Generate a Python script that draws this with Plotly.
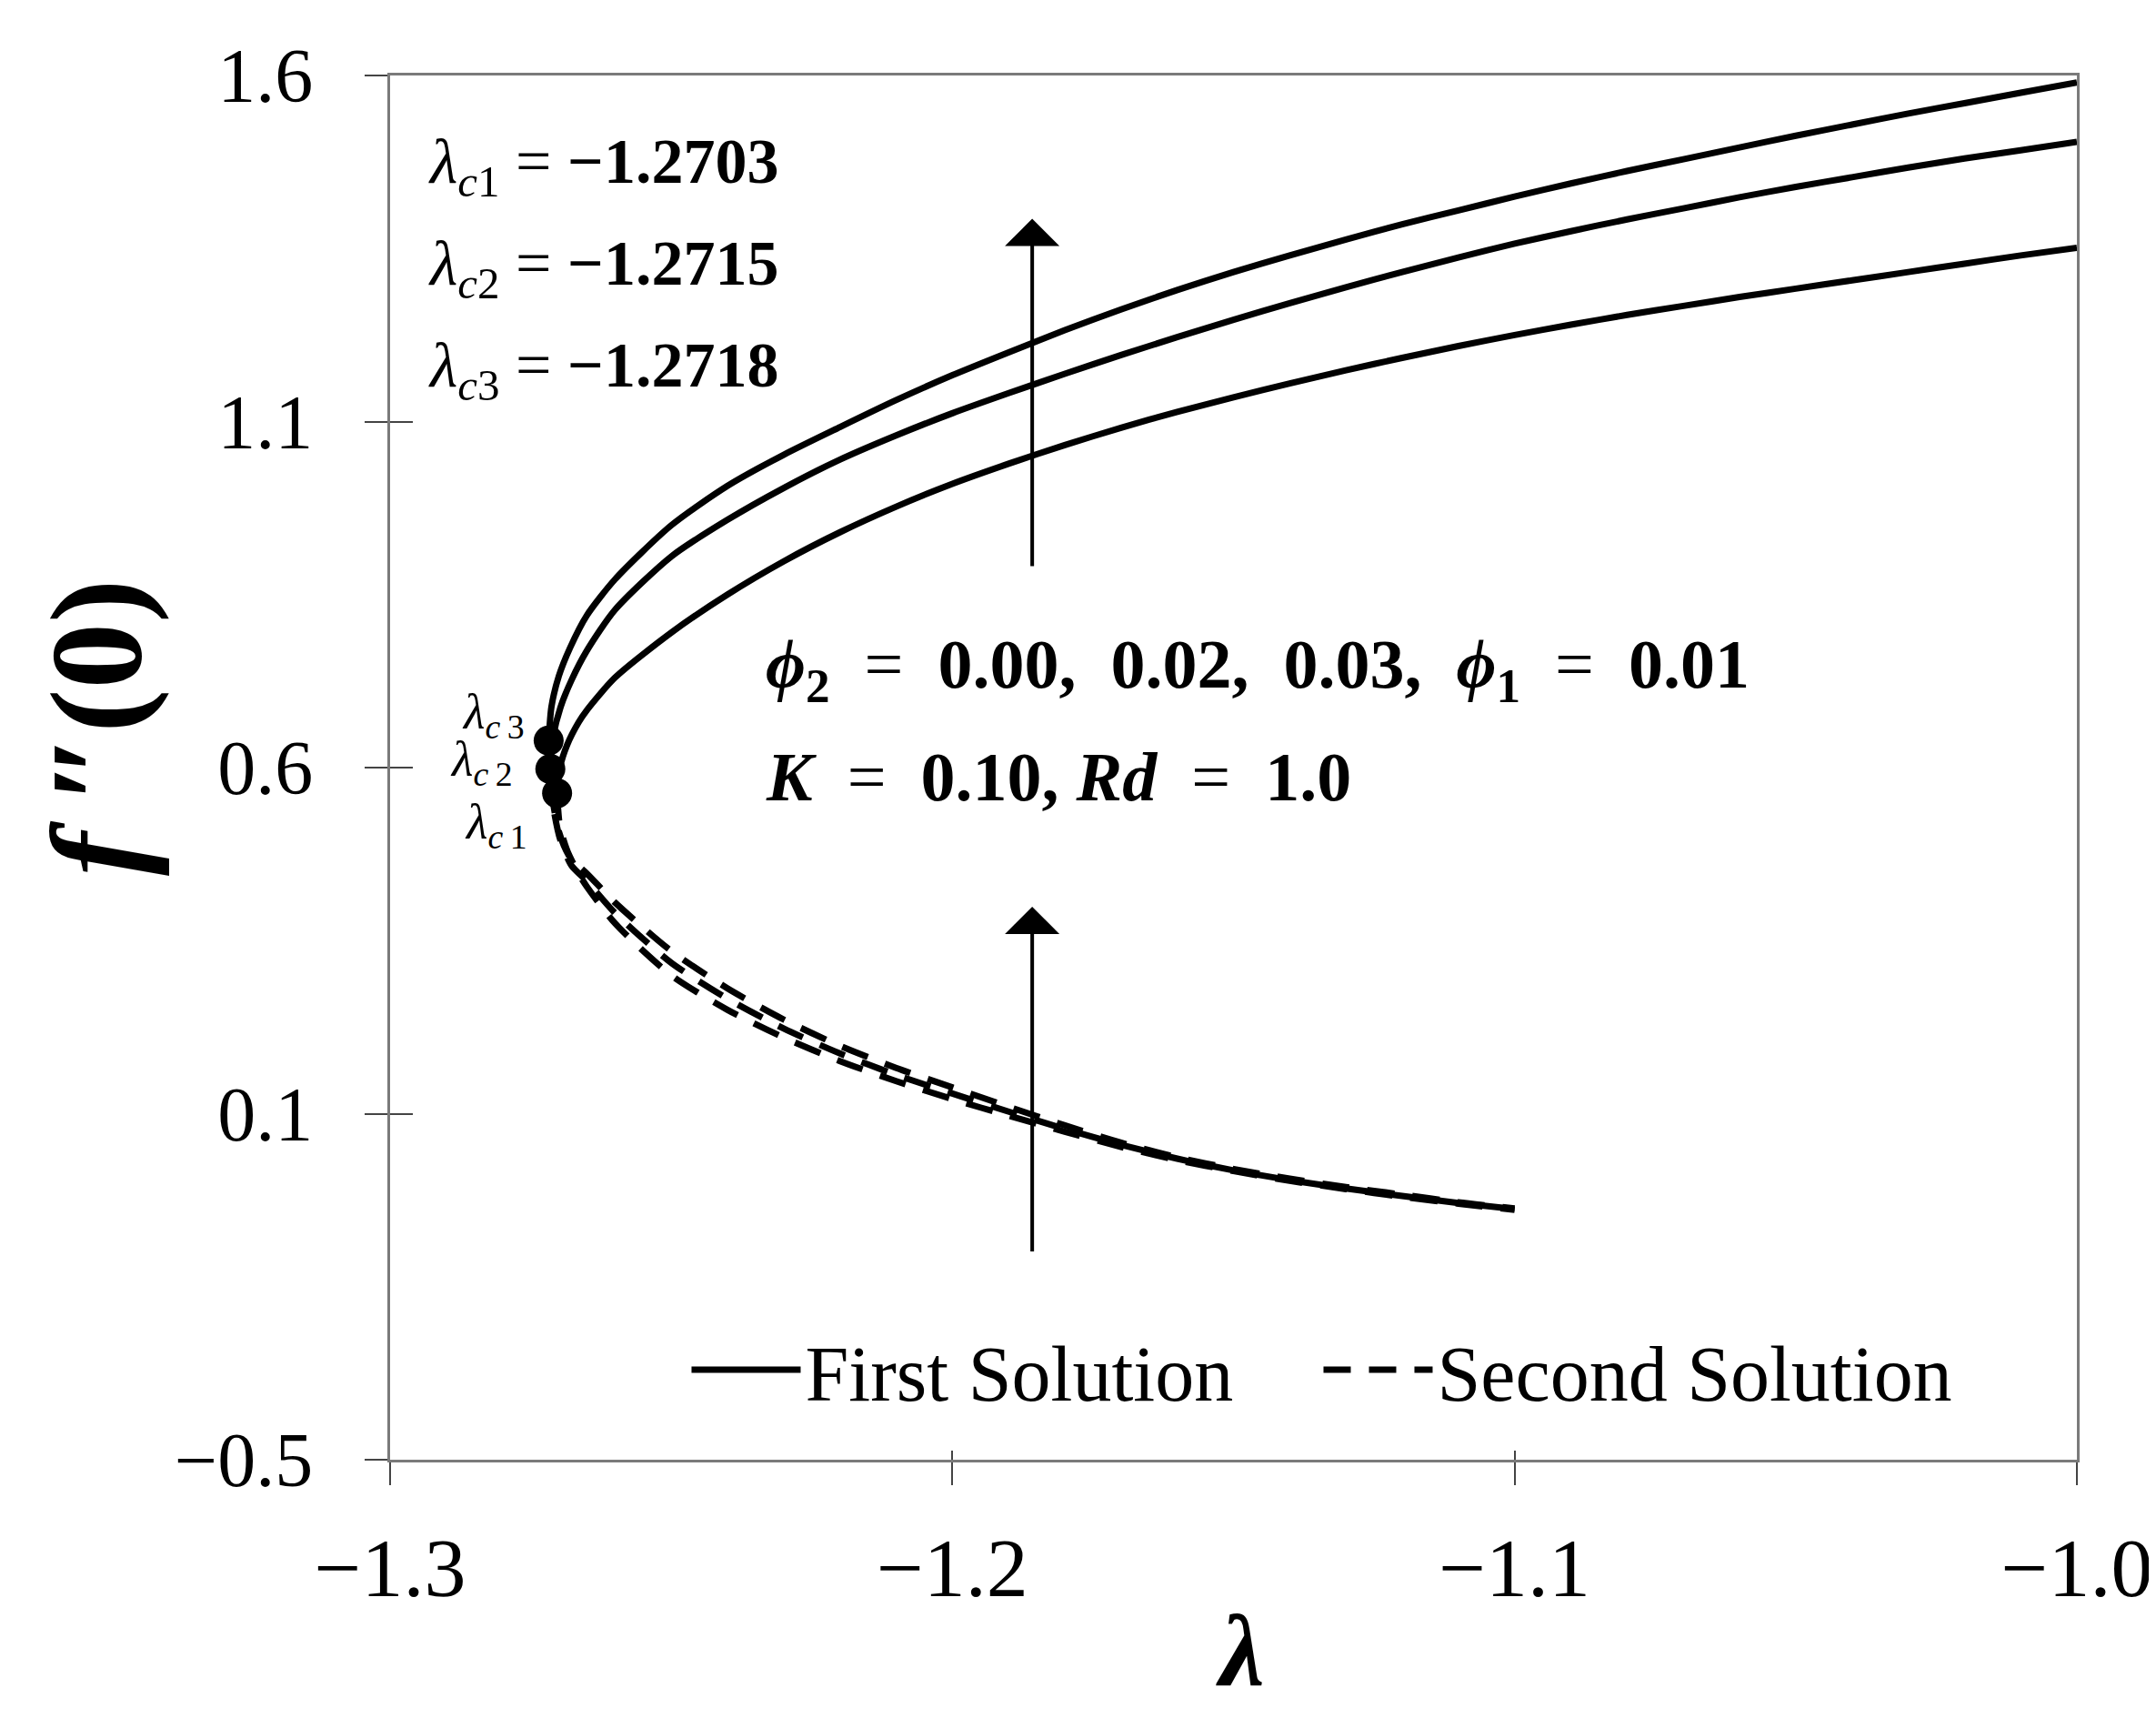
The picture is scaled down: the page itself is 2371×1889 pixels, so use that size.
import plotly.graph_objects as go

# critical points (lambda_c) and f''(0) at the turning point, phi2 = 0.00, 0.02, 0.03
lam_c = [-1.2703, -1.2715, -1.2718]
fpp_c = [0.563, 0.598, 0.639]

# first solution (upper branch)
lam_first_00 = [-1.2703, -1.2698, -1.2685, -1.2665, -1.265, -1.26, -1.25, -1.24, -1.23, -1.22, -1.21,
                -1.20, -1.19, -1.18, -1.17, -1.16, -1.15, -1.14, -1.13, -1.12, -1.11, -1.10, -1.09,
                -1.08, -1.07, -1.06, -1.05, -1.04, -1.03, -1.02, -1.01, -1.00]
fpp_first_00 = [0.563, 0.600, 0.633, 0.665, 0.683, 0.730, 0.795, 0.850, 0.898, 0.940, 0.977,
                1.010, 1.039, 1.066, 1.091, 1.114, 1.135, 1.155, 1.174, 1.192, 1.209, 1.225, 1.240,
                1.254, 1.267, 1.280, 1.292, 1.304, 1.316, 1.328, 1.340, 1.351]

lam_first_02 = [-1.2715, -1.2710, -1.2697, -1.2677, -1.265, -1.26, -1.25, -1.24, -1.23, -1.22, -1.21,
                -1.20, -1.19, -1.18, -1.17, -1.16, -1.15, -1.14, -1.13, -1.12, -1.11, -1.10, -1.09,
                -1.08, -1.07, -1.06, -1.05, -1.04, -1.03, -1.02, -1.01, -1.00]
fpp_first_02 = [0.598, 0.645, 0.687, 0.727, 0.769, 0.828, 0.905, 0.958, 1.004, 1.045, 1.080,
                1.112, 1.141, 1.169, 1.196, 1.222, 1.247, 1.271, 1.294, 1.316, 1.337, 1.357, 1.375,
                1.392, 1.408, 1.424, 1.439, 1.453, 1.467, 1.480, 1.492, 1.504]

lam_first_03 = [-1.2718, -1.2713, -1.2700, -1.268, -1.265, -1.26, -1.25, -1.24, -1.23, -1.22, -1.21,
                -1.20, -1.19, -1.18, -1.17, -1.16, -1.15, -1.14, -1.13, -1.12, -1.11, -1.10, -1.09,
                -1.08, -1.07, -1.06, -1.05, -1.04, -1.03, -1.02, -1.01, -1.00]
fpp_first_03 = [0.639, 0.688, 0.732, 0.773, 0.820, 0.872, 0.950, 1.007, 1.052, 1.092, 1.131,
                1.167, 1.200, 1.232, 1.262, 1.290, 1.316, 1.340, 1.363, 1.385, 1.405, 1.425, 1.444,
                1.462, 1.479, 1.496, 1.513, 1.529, 1.545, 1.560, 1.575, 1.590]

# second solution (lower branch)
lam_second_00 = [-1.2703, -1.2698, -1.2685, -1.2665, -1.265, -1.26, -1.25, -1.24, -1.23, -1.22, -1.21,
                 -1.20, -1.19, -1.18, -1.17, -1.16, -1.15, -1.14, -1.13, -1.12, -1.11, -1.10]
fpp_second_00 = [0.563, 0.515, 0.480, 0.447, 0.428, 0.375, 0.300, 0.250, 0.210, 0.176, 0.147,
                 0.121, 0.097, 0.074, 0.052, 0.033, 0.017, 0.003, -0.009, -0.020, -0.030, -0.039]

lam_second_02 = [-1.2715, -1.2709, -1.2697, -1.2677, -1.265, -1.26, -1.25, -1.24, -1.23, -1.22, -1.21,
                 -1.20, -1.19, -1.18, -1.17, -1.16, -1.15, -1.14, -1.13, -1.12, -1.11, -1.10]
fpp_second_02 = [0.598, 0.540, 0.495, 0.458, 0.436, 0.390, 0.318, 0.266, 0.223, 0.187, 0.156,
                 0.129, 0.103, 0.078, 0.055, 0.035, 0.018, 0.004, -0.008, -0.019, -0.029, -0.038]

lam_second_03 = [-1.2718, -1.2712, -1.2700, -1.268, -1.265, -1.26, -1.25, -1.24, -1.23, -1.22, -1.21,
                 -1.20, -1.19, -1.18, -1.17, -1.16, -1.15, -1.14, -1.13, -1.12, -1.11, -1.10]
fpp_second_03 = [0.639, 0.560, 0.508, 0.470, 0.447, 0.405, 0.335, 0.281, 0.236, 0.198, 0.166,
                 0.138, 0.110, 0.083, 0.058, 0.037, 0.020, 0.006, -0.006, -0.017, -0.028, -0.037]

x_ticks = [-1.3, -1.2, -1.1, -1.0]
y_ticks = [-0.4, 0.1, 0.6, 1.1, 1.6]
y_ticktext = ['\u22120.5', '0.1', '0.6', '1.1', '1.6']

FONT = 'Liberation Serif, Times New Roman, serif'
AXCOL = '#7a7a7a'
SP = '\u00a0'

first = [(lam_first_00, fpp_first_00), (lam_first_02, fpp_first_02), (lam_first_03, fpp_first_03)]
second = [(lam_second_00, fpp_second_00), (lam_second_02, fpp_second_02), (lam_second_03, fpp_second_03)]

fig = go.Figure()

for i, (lx, ly) in enumerate(first):
    fig.add_trace(go.Scatter(x=lx, y=ly, mode='lines', name='First Solution',
                             legendgroup='first', showlegend=(i == 0),
                             line=dict(color='black', width=7, shape='spline', smoothing=0.7)))

for i, (lx, ly) in enumerate(second):
    fig.add_trace(go.Scatter(x=lx, y=ly, mode='lines', name='Second Solution',
                             legendgroup='second', showlegend=(i == 0),
                             line=dict(color='black', width=7, dash='30px,20px',
                                       shape='spline', smoothing=0.7)))

fig.add_trace(go.Scatter(x=lam_c, y=fpp_c, mode='markers', showlegend=False,
                         marker=dict(color='black', size=33)))

# invisible trace for the overlay axes (inner half of the crossing ticks)
fig.add_trace(go.Scatter(x=[-1.3], y=[1.6], xaxis='x2', yaxis='y2', mode='markers',
                         marker=dict(opacity=0), showlegend=False, hoverinfo='skip'))

fig.update_layout(
    width=2371, height=1889,
    margin=dict(l=421, r=88, t=75, b=292),
    paper_bgcolor='white', plot_bgcolor='white',
    font=dict(family=FONT, color='black'),
    xaxis=dict(range=[-1.3, -1.0], tickvals=x_ticks, tickformat='.1f',
               showgrid=False, zeroline=False, showline=True, mirror=True,
               linecolor=AXCOL, linewidth=3, ticks='outside', ticklen=25,
               tickcolor='#444', tickwidth=2, ticklabelstandoff=12,
               tickfont=dict(size=92, family=FONT, color='black')),
    yaxis=dict(range=[-0.4, 1.6], tickvals=y_ticks, ticktext=y_ticktext,
               showgrid=False, zeroline=False, showline=True, mirror=True,
               linecolor=AXCOL, linewidth=3, ticks='outside', ticklen=25,
               tickcolor='#444', tickwidth=2, ticklabelstandoff=40,
               tickfont=dict(size=84, family=FONT, color='black')),
    xaxis2=dict(range=[-1.3, -1.0], overlaying='x', anchor='y2', side='bottom',
                tickvals=x_ticks, showticklabels=False, showgrid=False, zeroline=False,
                showline=False, ticks='inside', ticklen=10, tickcolor='#444', tickwidth=2),
    yaxis2=dict(range=[-0.4, 1.6], overlaying='y', anchor='x2', side='left',
                tickvals=y_ticks, showticklabels=False, showgrid=False, zeroline=False,
                showline=False, ticks='inside', ticklen=25, tickcolor='#444', tickwidth=2),
    legend=dict(orientation='h', x=0.176, y=0.065, xanchor='left', yanchor='middle',
                bgcolor='rgba(0,0,0,0)', font=dict(size=86, family=FONT, color='black'),
                itemwidth=120, entrywidth=560, entrywidthmode='pixels', tracegroupgap=0),
)

ann = []
# axis titles
ann.append(dict(xref='paper', yref='paper', x=-0.174, y=0.529, xanchor='center', yanchor='middle',
                showarrow=False, textangle=-90,
                text='<b><i>f</i>\u2009\u2033(0)</b>', font=dict(size=145, family=FONT)))
ann.append(dict(xref='paper', yref='paper', x=0.504, y=-0.138, xanchor='center', yanchor='middle',
                showarrow=False, text='<b><i>\u03bb</i></b>', font=dict(size=112, family=FONT)))

# critical values
crit_rows = [('1', '\u22121.2703', 1.468), ('2', '\u22121.2715', 1.321), ('3', '\u22121.2718', 1.174)]
for k, val, yy in crit_rows:
    ann.append(dict(x=-1.2935, y=yy, xanchor='left', yanchor='middle', showarrow=False,
                    text='<i>\u03bb</i><sub><i>c</i>' + k + '</sub> = <b>' + val + '</b>',
                    font=dict(size=70, family=FONT)))

# small labels at the turning points
for k, xx, yy in [('3', -1.2816, 0.676), ('2', -1.2837, 0.607), ('1', -1.2811, 0.517)]:
    ann.append(dict(x=xx, y=yy, xanchor='center', yanchor='middle', showarrow=False,
                    text='<i>\u03bb</i><sub><i>c</i>\u2009' + k + '</sub>',
                    font=dict(size=54, family=FONT)))

# parameter text
eq = SP + ' =' + SP + ' '
ann.append(dict(x=-1.2335, y=0.742, xanchor='left', yanchor='middle', showarrow=False,
                text='<b><i>\u03d5</i><sub>2</sub></b>' + eq + '<b>0.00,' + SP + ' 0.02,' + SP +
                     ' 0.03,' + SP + ' <i>\u03d5</i><sub>1</sub></b>' + eq + '<b>0.01</b>',
                font=dict(size=76, family=FONT)))
ann.append(dict(x=-1.2335, y=0.587, xanchor='left', yanchor='middle', showarrow=False,
                text='<b><i>K</i></b>' + eq + '<b>0.10, <i>Rd</i></b>' + eq + '<b>1.0</b>',
                font=dict(size=76, family=FONT)))

# arrows (increasing phi2)
for tip, tail in [(1.393, 0.889), (0.399, -0.101)]:
    ann.append(dict(x=-1.1858, y=tip, ax=-1.1858, ay=tail, xref='x', yref='y',
                    axref='x', ayref='y', showarrow=True, arrowhead=1, arrowsize=2.5,
                    arrowwidth=4, arrowcolor='black', text=''))

fig.update_layout(annotations=ann)

fig.write_html("out.html")
